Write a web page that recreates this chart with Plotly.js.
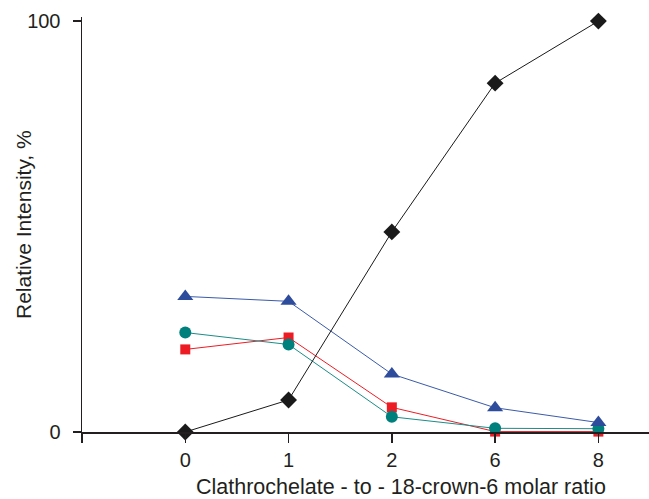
<!DOCTYPE html>
<html><head><meta charset="utf-8">
<script src="https://cdn.plot.ly/plotly-3.0.1.min.js"></script>
<style>body{margin:0;background:#fff}#chart{width:649px;height:499px}</style>
</head><body><div id="chart"></div>
<script>
const categories = ["0", "1", "2", "6", "8"];
const blackDiamond = [0, 7.8, 48.7, 84.9, 100];
const blueTriangle = [33.0, 31.8, 14.1, 5.9, 2.3];
const tealCircle = [24.2, 21.3, 3.7, 0.9, 0.8];
const redSquare = [20.1, 23.0, 6.0, 0.1, 0.1];
const yTicks = [0, 100];

const idx = categories.map((c, i) => i);
function tr(y, color, lineColor, symbol, size) {
  return {x: idx, y: y, type: 'scatter', mode: 'lines+markers', cliponaxis: false,
    line: {color: lineColor, width: 1}, marker: {color: color, symbol: symbol, size: size}};
}
const data = [
  tr(redSquare, '#ed1c24', '#ed1c24', 'square', 10),
  tr(tealCircle, '#00807c', '#1a8c88', 'circle', 12),
  tr(blueTriangle, '#2e4c9c', '#3a5aaa', 'triangle-up', 14),
  tr(blackDiamond, '#1a1a1a', '#1a1a1a', 'diamond', 13)
];
const layout = {
  width: 649, height: 499, showlegend: false,
  margin: {l: 82, r: 0, t: 17, b: 67},
  paper_bgcolor: '#fff', plot_bgcolor: '#fff',
  font: {family: 'Liberation Sans, Arial, sans-serif', size: 20, color: '#231f20'},
  xaxis: {range: [-1, 4.49], tickvals: [-1].concat(idx), ticktext: [''].concat(categories), ticks: 'outside', ticklen: 9,
    tickwidth: 1.5, tickcolor: '#231f20', showline: true, linecolor: '#231f20', linewidth: 1.5,
    showgrid: false, zeroline: false, tickfont: {size: 20}},
  yaxis: {range: [0, 101], tickvals: yTicks, ticktext: yTicks.map(String), ticks: 'outside', ticklen: 8,
    tickwidth: 1.5, tickcolor: '#231f20', showline: true, linecolor: '#231f20', linewidth: 1.5,
    showgrid: false, zeroline: false, tickfont: {size: 20}, ticklabelstandoff: 8},
  annotations: [
    {text: 'Clathrochelate - to - 18-crown-6 molar ratio', xref: 'paper', yref: 'paper',
     x: (401 - 82) / 567, y: -(487 - 432) / 415, xanchor: 'center', yanchor: 'middle', showarrow: false, font: {size: 21.5}},
    {text: 'Relative Intensity, %', xref: 'paper', yref: 'paper', textangle: -90,
     x: (24 - 82) / 567, y: (432 - 225) / 415, xanchor: 'center', yanchor: 'middle', showarrow: false, font: {size: 21}}
  ]
};
Plotly.newPlot('chart', data, layout, {staticPlot: true});
</script></body></html>
